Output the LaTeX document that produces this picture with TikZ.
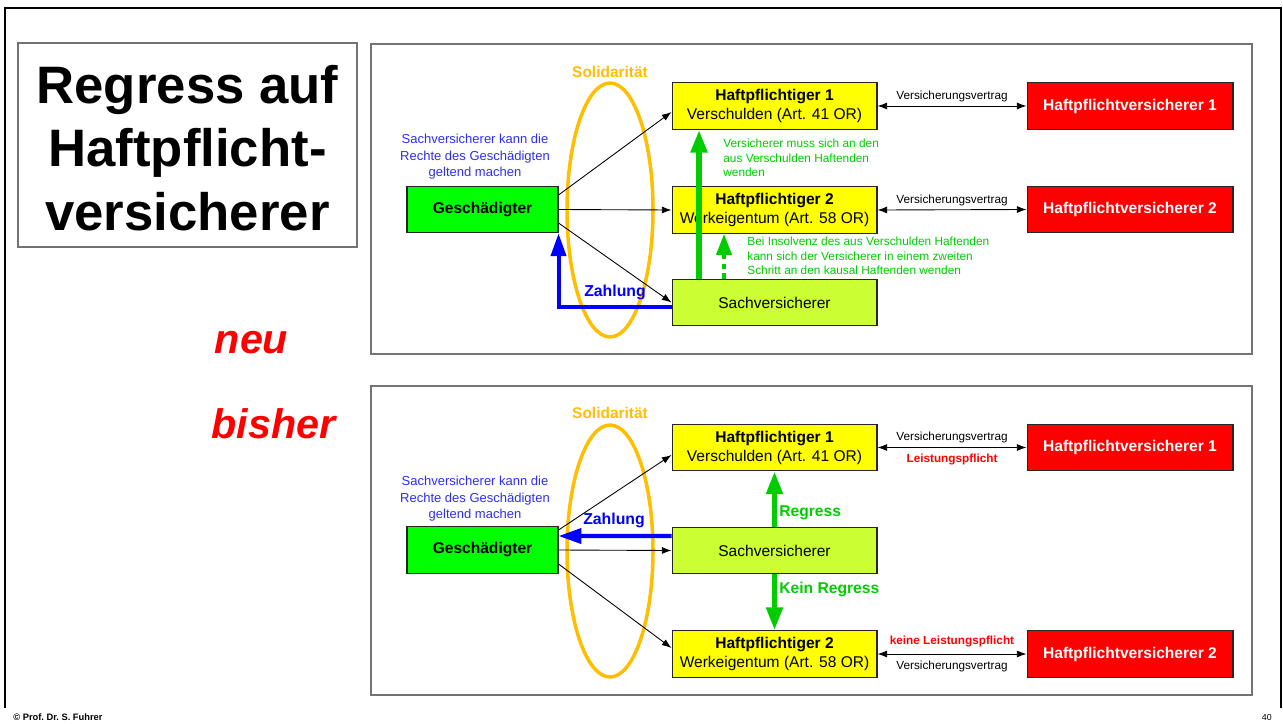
\documentclass[tikz,border=0pt]{standalone}
\usepackage{fontspec}
\setmainfont{Liberation Sans}
\usetikzlibrary{arrows.meta}
\definecolor{geschgreen}{RGB}{0,255,0}
\definecolor{hpyellow}{RGB}{255,255,0}
\definecolor{sachgreen}{RGB}{204,255,51}
\definecolor{hvred}{RGB}{255,0,0}
\definecolor{soliorange}{RGB}{255,190,0}
\definecolor{regressgreen}{RGB}{0,204,0}
\definecolor{zahlblue}{RGB}{0,0,255}
\definecolor{noteblue}{RGB}{45,45,255}
\definecolor{framegray}{RGB}{115,115,115}
\begin{document}
\begin{tikzpicture}[x=0.02cm,y=-0.02cm,
    every node/.style={inner sep=0pt},
    box/.style={draw=black!85,line width=0.6pt,minimum width=4.1cm,minimum height=0.93cm,
      align=center,font=\fontsize{8.85}{10.8}\selectfont},
    geschbox/.style={box,fill=geschgreen,minimum width=3.02cm,font=\fontsize{8.85}{10.8}\selectfont\bfseries},
    hpbox/.style={box,fill=hpyellow},
    sachbox/.style={box,fill=sachgreen},
    hvbox/.style={box,fill=hvred,minimum width=4.12cm,text=white,font=\fontsize{8.85}{10.8}\selectfont\bfseries},
    soli/.style={draw=soliorange,line width=2pt},
    solilabel/.style={text=soliorange,font=\fontsize{8.8}{10}\selectfont\bfseries},
    bluenote/.style={text=noteblue,align=center,font=\fontsize{7.4}{9.4}\selectfont},
    greennote/.style={text=regressgreen,align=left,font=\fontsize{6.75}{8.2}\selectfont},
    vlabel/.style={font=\fontsize{6.7}{8}\selectfont},
    plabel/.style={text=hvred,font=\fontsize{6.7}{8}\selectfont\bfseries},
    zlabel/.style={text=zahlblue,font=\fontsize{9}{10}\selectfont\bfseries},
    rlabel/.style={text=regressgreen,font=\fontsize{8.9}{10}\selectfont\bfseries},
    claim/.style={-{Latex[length=5.5pt,width=4pt]},line width=0.5pt},
    vertrag/.style={{Latex[length=5.5pt,width=4pt]}-{Latex[length=5.5pt,width=4pt]},line width=0.5pt},
    zahlung/.style={-{Triangle[length=13pt,width=8.5pt]},draw=zahlblue,line width=2.3pt},
    regress/.style={-{Triangle[length=13pt,width=9pt]},draw=regressgreen,line width=3pt},
    insolvenz/.style={-{Triangle[length=12pt,width=8.5pt]},draw=regressgreen,line width=2.2pt,
      dash pattern=on 3pt off 2.5pt}]
  \useasboundingbox (0,0) rectangle (1283,723);
  \draw[line width=1.3pt] (5,708) -- (5,8) -- (1281,8) -- (1281,708);
  \draw[framegray,line width=0.7pt] (18,43) rectangle (357,247);
  \draw[framegray,line width=1.1pt] (371,44) rectangle (1252,354);
  \draw[framegray,line width=1.1pt] (371,386) rectangle (1252,695);
  \draw
    (187.5,148) node[align=center,font=\fontsize{30}{36}\selectfont\bfseries] (title)
      {Regress auf\\Haftpflicht-\\versicherer}
    (251.5,353) node[anchor=base,text=hvred,font=\fontsize{23.5}{26}\selectfont\bfseries\itshape] (neu) {neu}
    (273.5,438) node[anchor=base,text=hvred,font=\fontsize{23.5}{26}\selectfont\bfseries\itshape] (bisher) {bisher}
    (13,720) node[anchor=base west,font=\fontsize{5.3}{6}\selectfont\bfseries] (autor) {© Prof.\ Dr.\ S.\ Fuhrer}
    (1272,720) node[anchor=base east,font=\fontsize{5}{6}\selectfont] (seite) {40};
  % neu
  \draw[soli] (610,210) ellipse [x radius=0.86cm, y radius=2.54cm];
  \draw
    (610,72) node[solilabel] (soli1) {Solidarität}
    (475,157) node[bluenote] (note1) {Sachversicherer kann die\\Rechte des Geschädigten\\geltend machen}
    (482.5,209.5) node[geschbox] (gesch1) {Geschädigter}
    (774.5,106) node[hpbox] (hpa1) {\textbf{Haftpflichtiger 1}\\Verschulden (Art. 41 OR)}
    (774.5,210) node[hpbox] (hpb1) {\textbf{Haftpflichtiger 2}\\Werkeigentum (Art. 58 OR)}
    (774.5,302.5) node[sachbox] (sach1) {Sachversicherer}
    (1130,106) node[hvbox] (hva1) {Haftpflichtversicherer 1}
    (1130,209.5) node[hvbox] (hvb1) {Haftpflichtversicherer 2}
    (723,158) node[anchor=west,greennote] (muss1) {Versicherer muss sich an den\\aus Verschulden Haftenden\\wenden}
    (747,256) node[anchor=west,greennote] (insolv1) {Bei Insolvenz des aus Verschulden Haftenden\\kann sich der Versicherer in einem zweiten\\Schritt an den kausal Haftenden wenden};
  \begin{scope}[claim]
    \draw ([yshift=0.29cm]gesch1.east) to ([yshift=-0.12cm]hpa1.west);
    \draw (gesch1.east) to (hpb1.west);
    \draw ([yshift=-0.27cm]gesch1.east) to (sach1.west);
  \end{scope}
  \draw[vertrag] (hpa1.east) to node[above=1.9pt,vlabel] (va1) {Versicherungsvertrag} (hva1.west);
  \draw[vertrag] (hpb1.east) to node[above=1.9pt,vlabel] (vb1) {Versicherungsvertrag} (hvb1.west);
  \draw[zahlung] ([yshift=-0.09cm]sach1.west) -| (gesch1.south east);
  \draw[regress,line width=3.8pt] ([xshift=-1.51cm]sach1.north) -- ([xshift=-1.51cm]hpa1.south);
  \draw[insolvenz] ([xshift=-1.01cm]sach1.north) -- ([xshift=-1.01cm]hpb1.south);
  \draw (615,292) node[zlabel] (zahl1) {Zahlung};
  % bisher
  \draw[soli] (610,551) ellipse [x radius=0.86cm, y radius=2.52cm];
  \draw
    (610,413) node[solilabel] (soli2) {Solidarität}
    (475,499) node[bluenote] (note2) {Sachversicherer kann die\\Rechte des Geschädigten\\geltend machen}
    (482.5,550) node[geschbox] (gesch2) {Geschädigter}
    (774.5,447.5) node[hpbox] (hpa2) {\textbf{Haftpflichtiger 1}\\Verschulden (Art. 41 OR)}
    (774.5,550.5) node[sachbox] (sach2) {Sachversicherer}
    (774.5,654) node[hpbox] (hpb2) {\textbf{Haftpflichtiger 2}\\Werkeigentum (Art. 58 OR)}
    (1130,447.5) node[hvbox] (hva2) {Haftpflichtversicherer 1}
    (1130,654) node[hvbox] (hvb2) {Haftpflichtversicherer 2};
  \begin{scope}[claim]
    \draw ([yshift=0.4cm]gesch2.east) to ([yshift=-0.15cm]hpa2.west);
    \draw (gesch2.east) to (sach2.west);
    \draw ([yshift=-0.28cm]gesch2.east) to ([yshift=0.12cm]hpb2.west);
  \end{scope}
  \draw[vertrag] (hpa2.east) to node[above=2.4pt,vlabel] (va2) {Versicherungsvertrag}
    node[below=3.2pt,plabel] (pa2) {Leistungspflicht} (hva2.west);
  \draw[vertrag] (hpb2.east) to node[above=3.6pt,plabel] (pb2) {keine Leistungspflicht}
    node[below=3.7pt,vlabel] (vb2) {Versicherungsvertrag} (hvb2.west);
  \draw[zahlung] ([yshift=0.29cm]sach2.west) -- ([yshift=0.28cm]gesch2.east);
  \draw[regress] (sach2.north) -- (hpa2.south);
  \draw[regress] (sach2.south) -- (hpb2.north);
  \draw
    (614,520) node[zlabel] (zahl2) {Zahlung}
    (779,513) node[anchor=west,rlabel] (reg2) {Regress}
    (779,589) node[anchor=west,rlabel] (kein2) {Kein Regress};
\end{tikzpicture}
\end{document}
